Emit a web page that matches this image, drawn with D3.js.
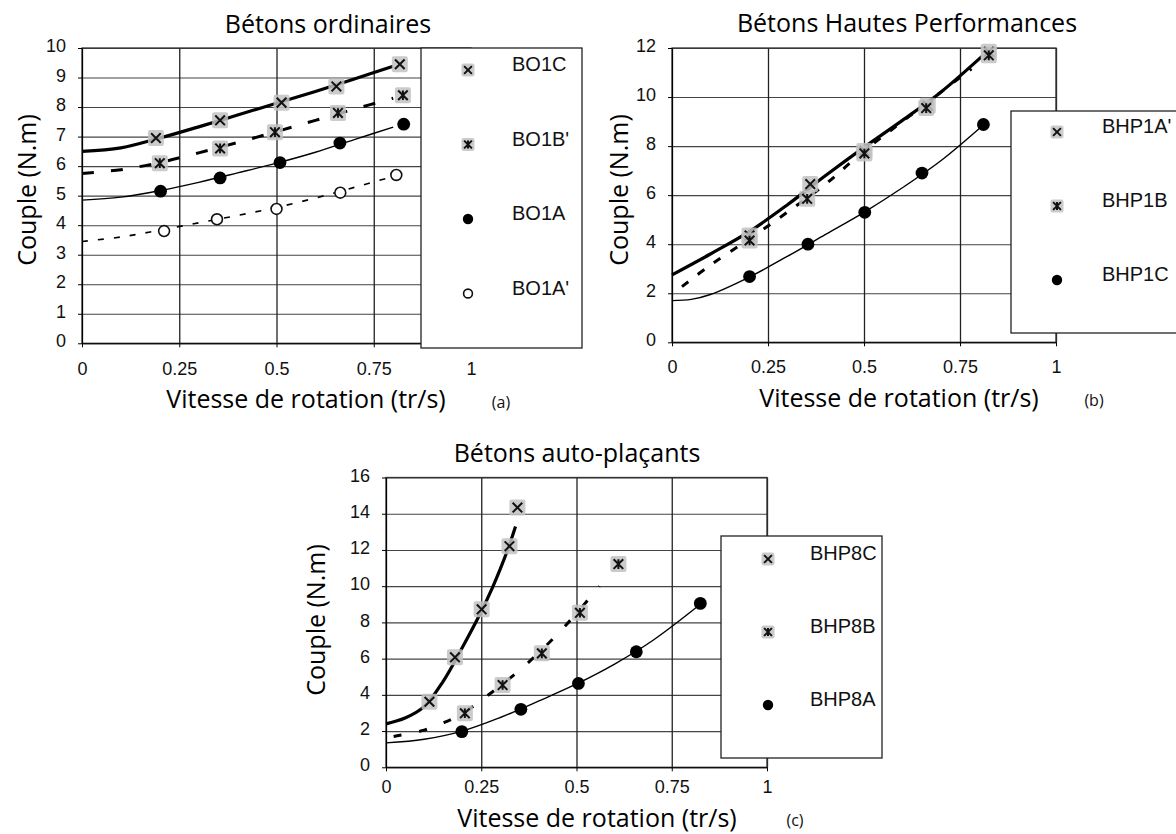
<!DOCTYPE html>
<html>
<head>
<meta charset="utf-8">
<script src="https://cdn.jsdelivr.net/npm/d3@7"></script>
<style>
  body { margin: 0; background: #fff; }
  svg { display: block; }
  .lbl { font-family: "Open Sans", sans-serif; font-size: 25px; fill: #000; }
  .tag { font-family: "Open Sans", sans-serif; font-size: 16px; fill: #111; }
  .leg { font-family: "Liberation Sans", Arial, sans-serif; font-size: 20px; fill: #111; }
</style>
</head>
<body>
<div id="chart"></div>
<script>
// ---- data ----
const xTicks = [0, 0.25, 0.5, 0.75, 1];

// (a) Bétons ordinaires
const namesA = ["BO1C", "BO1B'", "BO1A", "BO1A'"];
const bo1cX = [0.19, 0.355, 0.513, 0.654, 0.817];
const bo1cY = [6.95, 7.55, 8.15, 8.7, 9.45];
const bo1bX = [0.20, 0.355, 0.496, 0.658, 0.825];
const bo1bY = [6.1, 6.6, 7.15, 7.8, 8.4];
const bo1aX = [0.202, 0.355, 0.509, 0.663, 0.827];
const bo1aY = [5.15, 5.6, 6.12, 6.78, 7.42];
const bo1a2X = [0.211, 0.347, 0.5, 0.664, 0.808];
const bo1a2Y = [3.8, 4.2, 4.55, 5.1, 5.7];
// fitted curves
const fitXA = [0, 0.1, 0.2, 0.3, 0.4, 0.5, 0.6, 0.7, 0.8];
const fitBo1c = [6.5, 6.62, 6.95, 7.33, 7.73, 8.13, 8.53, 8.95, 9.38];
const fitBo1b = [5.75, 5.88, 6.12, 6.45, 6.8, 7.17, 7.55, 7.93, 8.3];
const fitBo1a = [4.85, 4.95, 5.17, 5.45, 5.77, 6.1, 6.47, 6.9, 7.32];
const fitBo1a2 = [3.45, 3.6, 3.83, 4.08, 4.33, 4.6, 4.92, 5.28, 5.65];

// (b) Bétons Hautes Performances
const namesB = ["BHP1A'", "BHP1B", "BHP1C"];
const bhp1a2X = [0.202, 0.36, 0.501, 0.666, 0.825];
const bhp1a2Y = [4.35, 6.45, 7.8, 9.65, 11.85];
const bhp1bX = [0.202, 0.352, 0.501, 0.662, 0.825];
const bhp1bY = [4.15, 5.85, 7.7, 9.55, 11.7];
const bhp1cX = [0.202, 0.354, 0.502, 0.651, 0.811];
const bhp1cY = [2.68, 4.0, 5.3, 6.9, 8.88];
const fitBhp1a2X = [0, 0.1, 0.2, 0.3, 0.4, 0.5, 0.6, 0.7, 0.81];
const fitBhp1a2 = [2.75, 3.6, 4.5, 5.6, 6.8, 7.95, 9.05, 10.2, 11.7];
const fitBhp1bX = [0.026, 0.1, 0.2, 0.3, 0.4, 0.5, 0.6, 0.7, 0.78];
const fitBhp1b = [2.27, 3.15, 4.2, 5.3, 6.45, 7.8, 9.0, 10.2, 11.15];
const fitBhp1cX = [0, 0.05, 0.1, 0.2, 0.3, 0.4, 0.5, 0.6, 0.7, 0.81];
const fitBhp1c = [1.7, 1.75, 1.95, 2.65, 3.5, 4.4, 5.3, 6.3, 7.4, 8.85];

// (c) Bétons auto-plaçants
const namesC = ["BHP8C", "BHP8B", "BHP8A"];
const bhp8cX = [0.114, 0.181, 0.251, 0.324, 0.345];
const bhp8cY = [3.62, 6.07, 8.72, 12.21, 14.34];
const bhp8bX = [0.207, 0.306, 0.409, 0.509, 0.61];
const bhp8bY = [2.98, 4.54, 6.29, 8.53, 11.22];
const bhp8aX = [0.199, 0.354, 0.505, 0.657, 0.825];
const bhp8aY = [1.97, 3.2, 4.63, 6.38, 9.05];
const fitBhp8cX = [0, 0.05, 0.1, 0.15, 0.2, 0.25, 0.28, 0.3, 0.32, 0.34];
const fitBhp8c = [2.4, 2.72, 3.35, 4.75, 6.6, 8.6, 9.95, 10.95, 12.05, 13.3];
const fitBhp8bX = [0.02, 0.1, 0.15, 0.2, 0.25, 0.3, 0.35, 0.4, 0.45, 0.5, 0.56];
const fitBhp8b = [1.7, 2.05, 2.45, 2.95, 3.7, 4.5, 5.35, 6.3, 7.35, 8.5, 10.0];
const fitBhp8aX = [0, 0.1, 0.2, 0.3, 0.4, 0.5, 0.6, 0.7, 0.825];
const fitBhp8a = [1.35, 1.55, 2.0, 2.75, 3.65, 4.6, 5.7, 7.0, 9.0];

const W = 1176, H = 834;
const svg = d3.select("#chart").append("svg")
  .attr("width", W)
  .attr("height", H);

function marker(g, type, cx, cy, s) {
  if (type === "dot") {
    g.append("circle").attr("cx", cx).attr("cy", cy).attr("r", s * 0.4).attr("fill", "#000");
  } else if (type === "ring") {
    g.append("circle").attr("cx", cx).attr("cy", cy).attr("r", s * 0.34)
      .attr("fill", "#fff").attr("stroke", "#111").attr("stroke-width", 1.6);
  } else {
    g.append("rect").attr("x", cx - s / 2).attr("y", cy - s / 2)
      .attr("width", s).attr("height", s).attr("rx", 2)
      .attr("fill", "#c2c2c2").attr("opacity", 0.85);
    const a = s * 0.3;
    g.append("path")
      .attr("d", `M${cx - a},${cy - a}L${cx + a},${cy + a}M${cx - a},${cy + a}L${cx + a},${cy - a}` +
        (type === "star" ? `M${cx},${cy - a}L${cx},${cy + a}` : ""))
      .attr("stroke", "#111").attr("stroke-width", 2).attr("fill", "none");
  }
}

function panel(p) {
  const x = d3.scaleLinear().domain([0, 1]).range([p.left, p.right]);
  const y = d3.scaleLinear().domain([0, p.ymax]).range([p.bottom, p.top]);
  const g = svg.append("g");

  // grid
  g.append("g")
    .attr("transform", `translate(${p.left},0)`)
    .call(d3.axisLeft(y).tickValues(p.yTicks).tickSize(-(p.right - p.left)).tickFormat(""))
    .call(s => s.select(".domain").remove())
    .call(s => s.selectAll("line").attr("stroke", "#444").attr("stroke-width", 1.1));
  g.append("g")
    .attr("transform", `translate(0,${p.bottom})`)
    .call(d3.axisBottom(x).tickValues(xTicks).tickSize(-(p.bottom - p.top)).tickFormat(""))
    .call(s => s.select(".domain").remove())
    .call(s => s.selectAll("line").attr("stroke", "#222").attr("stroke-width", 1.3));

  g.append("rect")
    .attr("x", p.left).attr("y", p.top)
    .attr("width", p.right - p.left).attr("height", p.bottom - p.top)
    .attr("fill", "none").attr("stroke", "#333").attr("stroke-width", 1.3);

  // axes
  g.append("g")
    .attr("transform", `translate(${p.left},0)`)
    .call(d3.axisLeft(y).tickValues(p.yTicks).tickSize(4).tickPadding(12).tickSizeOuter(0))
    .call(s => s.selectAll("text").attr("dy", "0.2em").attr("fill", "#111"))
    .attr("font-size", 18).attr("font-family", "Liberation Sans, Arial, sans-serif");
  g.append("g")
    .attr("transform", `translate(0,${p.bottom})`)
    .call(d3.axisBottom(x).tickValues(xTicks).tickSize(4).tickPadding(p.xPad).tickSizeOuter(0)
      .tickFormat(d => String(d)))
    .call(s => s.selectAll("text").attr("fill", "#111"))
    .attr("font-size", 18).attr("font-family", "Liberation Sans, Arial, sans-serif");

  // curves and points
  const line = d3.line().x(d => x(d[0])).y(d => y(d[1])).curve(d3.curveCatmullRom.alpha(0.5));
  p.series.forEach(s => {
    g.append("path")
      .datum(d3.zip(s.fitX, s.fitY))
      .attr("d", line)
      .attr("fill", "none")
      .attr("stroke", "#000")
      .attr("stroke-width", s.w)
      .attr("stroke-dasharray", s.dash);
  });
  p.series.forEach(s => {
    d3.zip(s.x, s.y).forEach(d => marker(g, s.mark, x(d[0]), y(d[1]), 16));
  });

  // legend
  const L = p.legend;
  g.append("rect")
    .attr("x", L.x).attr("y", L.y).attr("width", L.w).attr("height", L.h)
    .attr("fill", "#fff").attr("stroke", "#222").attr("stroke-width", 1.3);
  p.series.forEach((s, i) => {
    const cy = L.y + L.first + i * L.step;
    marker(g, s.mark, L.x + L.sym, cy, 13);
    g.append("text").attr("class", "leg")
      .attr("x", L.x + L.txt).attr("y", cy + 1)
      .text(s.name);
  });

  // labels
  g.append("text").attr("class", "lbl")
    .attr("x", p.title[0]).attr("y", p.title[1])
    .attr("text-anchor", "middle").text(p.titleText);
  g.append("text").attr("class", "lbl")
    .attr("x", p.xlab[0]).attr("y", p.xlab[1])
    .attr("text-anchor", "middle").text("Vitesse de rotation (tr/s)");
  g.append("text").attr("class", "lbl")
    .attr("transform", `translate(${p.ylab[0]},${p.ylab[1]}) rotate(-90)`)
    .attr("text-anchor", "middle").text("Couple (N.m)");
  g.append("text").attr("class", "tag")
    .attr("x", p.tag[0]).attr("y", p.tag[1])
    .attr("text-anchor", "middle").text(p.tagText);
}

panel({
  left: 82, right: 471, top: 48, bottom: 343.3, ymax: 10,
  yTicks: d3.range(0, 11, 1), xPad: 15,
  titleText: "Bétons ordinaires", title: [328, 33],
  xlab: [306, 408], ylab: [36, 190], tag: [501, 408], tagText: "(a)",
  legend: {x: 421, y: 48, w: 161, h: 300, first: 22, step: 74.5, sym: 47, txt: 91},
  series: [
    {name: namesA[0], x: bo1cX, y: bo1cY, fitX: fitXA, fitY: fitBo1c, mark: "cross", w: 3.2, dash: null},
    {name: namesA[1], x: bo1bX, y: bo1bY, fitX: fitXA, fitY: fitBo1b, mark: "star", w: 3, dash: "12,17"},
    {name: namesA[2], x: bo1aX, y: bo1aY, fitX: fitXA, fitY: fitBo1a, mark: "dot", w: 1.4, dash: null},
    {name: namesA[3], x: bo1a2X, y: bo1a2Y, fitX: fitXA, fitY: fitBo1a2, mark: "ring", w: 1.6, dash: "6,10"}
  ]
});

panel({
  left: 672, right: 1056, top: 48, bottom: 342.3, ymax: 12,
  yTicks: d3.range(0, 13, 2), xPad: 14,
  titleText: "Bétons Hautes Performances", title: [907, 32],
  xlab: [899, 407], ylab: [628, 190], tag: [1094, 406], tagText: "(b)",
  legend: {x: 1011, y: 111, w: 180, h: 222, first: 21, step: 74, sym: 46, txt: 91},
  series: [
    {name: namesB[0], x: bhp1a2X, y: bhp1a2Y, fitX: fitBhp1a2X, fitY: fitBhp1a2, mark: "cross", w: 3.2, dash: null},
    {name: namesB[1], x: bhp1bX, y: bhp1bY, fitX: fitBhp1bX, fitY: fitBhp1b, mark: "star", w: 3, dash: "8,12"},
    {name: namesB[2], x: bhp1cX, y: bhp1cY, fitX: fitBhp1cX, fitY: fitBhp1c, mark: "dot", w: 1.4, dash: null}
  ]
});

panel({
  left: 386, right: 767, top: 477.5, bottom: 767.3, ymax: 16,
  yTicks: d3.range(0, 17, 2), xPad: 9,
  titleText: "Bétons auto-plaçants", title: [577, 462],
  xlab: [597, 827], ylab: [325, 620], tag: [795, 826], tagText: "(c)",
  legend: {x: 721, y: 536, w: 161, h: 222, first: 23, step: 73, sym: 47, txt: 89},
  series: [
    {name: namesC[0], x: bhp8cX, y: bhp8cY, fitX: fitBhp8cX, fitY: fitBhp8c, mark: "cross", w: 3.2, dash: null},
    {name: namesC[1], x: bhp8bX, y: bhp8bY, fitX: fitBhp8bX, fitY: fitBhp8b, mark: "star", w: 3, dash: "8,18"},
    {name: namesC[2], x: bhp8aX, y: bhp8aY, fitX: fitBhp8aX, fitY: fitBhp8a, mark: "dot", w: 1.4, dash: null}
  ]
});
</script>
</body>
</html>
